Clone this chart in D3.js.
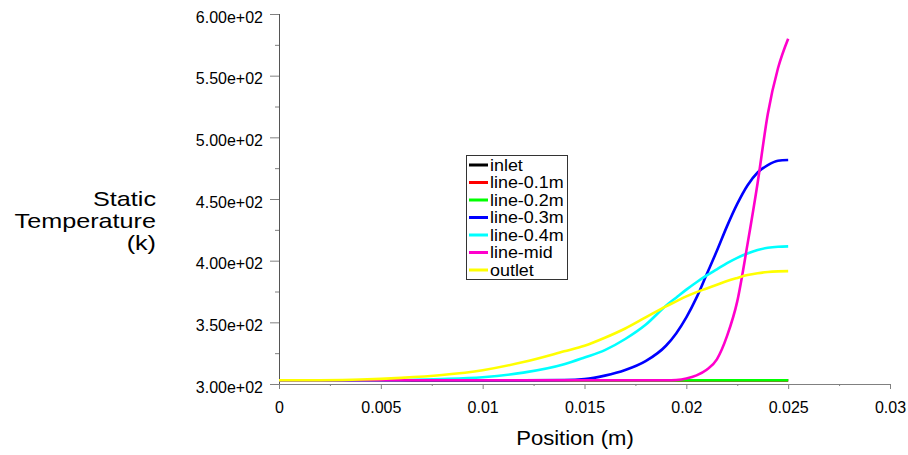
<!DOCTYPE html>
<meta charset="utf-8" />
<script src="https://d3js.org/d3.v7.min.js"></script>
<style>
  body { margin: 0; background: #fff; }
  text { font-family: Arial, "Liberation Sans", sans-serif; fill: #000; }
</style>
<svg width="908" height="455" id="plot"></svg>
<script>
  // positions along the line (m), shared by every series
  var position = [0, 0.002, 0.004, 0.006, 0.008, 0.01, 0.012, 0.014, 0.015, 0.016, 0.017, 0.018, 0.019,
    0.0195, 0.02, 0.0205, 0.021, 0.0215, 0.022, 0.0225, 0.023, 0.0235, 0.024, 0.0245, 0.025];

  // static temperature (k) for each line
  var inlet = [303, 303, 303, 303, 303, 303, 303, 303, 303, 303, 303, 303, 303,
    303, 303, 303, 303, 303, 303, 303, 303, 303, 303, 303, 303];
  var line01 = [303, 303, 303, 303, 303, 303, 303, 303, 303, 303, 303, 303, 303,
    303, 303, 303, 303, 303, 303, 303, 303, 303, 303, 303, 303];
  var line02 = [303, 303, 303, 303, 303, 303, 303, 303, 303, 303, 303, 303, 303,
    303, 303, 303, 303, 303, 303, 303, 303, 303, 303, 303, 303];
  var line03 = [303, 303, 303, 303, 303, 303, 303, 303.2, 304, 306.8, 311.3, 318.5, 331,
    341, 354, 370, 389, 408, 428, 446, 461, 471.5, 477.5, 481, 481.6];
  var line04 = [303, 303, 303.1, 303.3, 304, 305.5, 309.2, 316, 321.5, 327.5, 336.5, 348, 363.5,
    370, 376.5, 382.5, 388, 393, 398, 402.3, 405.8, 408.6, 410.4, 411.3, 411.6];
  var lineMid = [303, 303, 303, 303, 303, 303, 303, 303, 303, 303, 303, 303, 303,
    303.3, 304.5, 307, 311.5, 320, 339, 367, 413, 463, 519, 556, 580];
  var outlet = [303, 303.1, 303.6, 305, 307.3, 311.2, 317.8, 326.5, 331, 337.5, 345, 354, 363,
    367, 371, 374.5, 377.5, 380.5, 383.5, 386, 388.3, 389.8, 390.8, 391.3, 391.5];

  var names = ["inlet", "line-0.1m", "line-0.2m", "line-0.3m", "line-0.4m", "line-mid", "outlet"];
  var colors = ["#000000", "#ff0000", "#00ff00", "#0000ff", "#00ffff", "#ff00cc", "#ffff00"];
  var values = [inlet, line01, line02, line03, line04, lineMid, outlet];

  // ticks
  var xTicks = [0, 0.005, 0.01, 0.015, 0.02, 0.025, 0.03];
  var xMinor = [0.0025, 0.0075, 0.0125, 0.0175, 0.0225, 0.0275];
  var yTicks = [300, 350, 400, 450, 500, 550, 600];
  var yMinor = [325, 375, 425, 475, 525, 575];

  var svg = d3.select("#plot");

  var x = d3.scaleLinear().domain([0, 0.03]).range([279, 890]);
  var y = d3.scaleLinear().domain([300, 600]).range([384, 14]);

  var series = names.map(function (n, i) {
    return { name: n, color: colors[i], points: position.map(function (p, j) { return [p, values[i][j]]; }) };
  });

  // y axis
  var yAxis = svg.append("g").attr("transform", "translate(279,0)")
    .call(d3.axisLeft(y).tickValues(yMinor).tickSize(4).tickFormat(""));
  yAxis.select(".domain").remove();
  var yAxisMajor = svg.append("g").attr("transform", "translate(279,0)")
    .call(d3.axisLeft(y).tickValues(yTicks).tickSize(9).tickPadding(7)
      .tickFormat(function (d) { return d.toExponential(2).replace(/e\+(\d)$/, "e+0$1"); }));
  yAxisMajor.select(".domain").remove();
  yAxisMajor.selectAll("text").attr("dy", "0.5em").style("font-size", "16px");
  svg.append("line").attr("x1", 279.5).attr("x2", 279.5).attr("y1", 14).attr("y2", 388)
    .attr("stroke", "#555");

  // x axis
  var xAxisMinor = svg.append("g").attr("transform", "translate(0,384)")
    .call(d3.axisBottom(x).tickValues(xMinor).tickSize(2).tickFormat(""));
  xAxisMinor.select(".domain").remove();
  var xAxis = svg.append("g").attr("transform", "translate(0,384)")
    .call(d3.axisBottom(x).tickValues(xTicks).tickSize(5).tickPadding(13)
      .tickFormat(function (d) { return String(d); }));
  xAxis.select(".domain").remove();
  xAxis.selectAll("text").style("font-size", "16px");
  svg.append("line").attr("x1", 270).attr("x2", 890).attr("y1", 384.5).attr("y2", 384.5)
    .attr("stroke", "#808080");

  svg.selectAll(".tick line").attr("stroke", "#808080");

  // curves
  var line = d3.line()
    .x(function (d) { return x(d[0]); })
    .y(function (d) { return y(d[1]); })
    .curve(d3.curveMonotoneX);

  svg.append("g").selectAll("path")
    .data(series)
    .enter()
    .append("path")
    .attr("d", function (d) { return line(d.points); })
    .attr("fill", "none")
    .attr("stroke", function (d) { return d.color; })
    .attr("stroke-width", 2.6);

  // axis titles
  svg.append("text")
    .attr("x", 575)
    .attr("y", 445)
    .attr("text-anchor", "middle")
    .attr("transform", "translate(575,0) scale(1.05,1) translate(-575,0)")
    .style("font-size", "21px")
    .text("Position (m)");

  var yTitle = svg.append("text")
    .attr("text-anchor", "end")
    .attr("transform", "translate(156,0) scale(1.26,1)")
    .style("font-size", "20px");
  ["Static", "Temperature", "(k)"].forEach(function (t, i) {
    yTitle.append("tspan").attr("x", 0).attr("y", 206 + i * 22).text(t);
  });

  // legend
  svg.append("clipPath").attr("id", "legclip")
    .append("rect").attr("x", 466).attr("y", 155).attr("width", 101).attr("height", 124);
  var legend = svg.append("g");
  legend.append("rect")
    .attr("x", 466.5).attr("y", 155.5).attr("width", 101).attr("height", 124)
    .attr("fill", "#fff").attr("stroke", "#333");
  var rows = legend.append("g").attr("clip-path", "url(#legclip)")
    .selectAll("g").data(series).enter().append("g")
    .attr("transform", function (d, i) { return "translate(0," + (165 + i * 17.5) + ")"; });
  rows.append("line")
    .attr("x1", 469).attr("x2", 488)
    .attr("stroke", function (d) { return d.color; })
    .attr("stroke-width", 3);
  rows.append("text")
    .attr("transform", "translate(490,0) scale(1.12,1)")
    .attr("dy", "0.36em")
    .style("font-size", "16px")
    .text(function (d) { return d.name; });
</script>
